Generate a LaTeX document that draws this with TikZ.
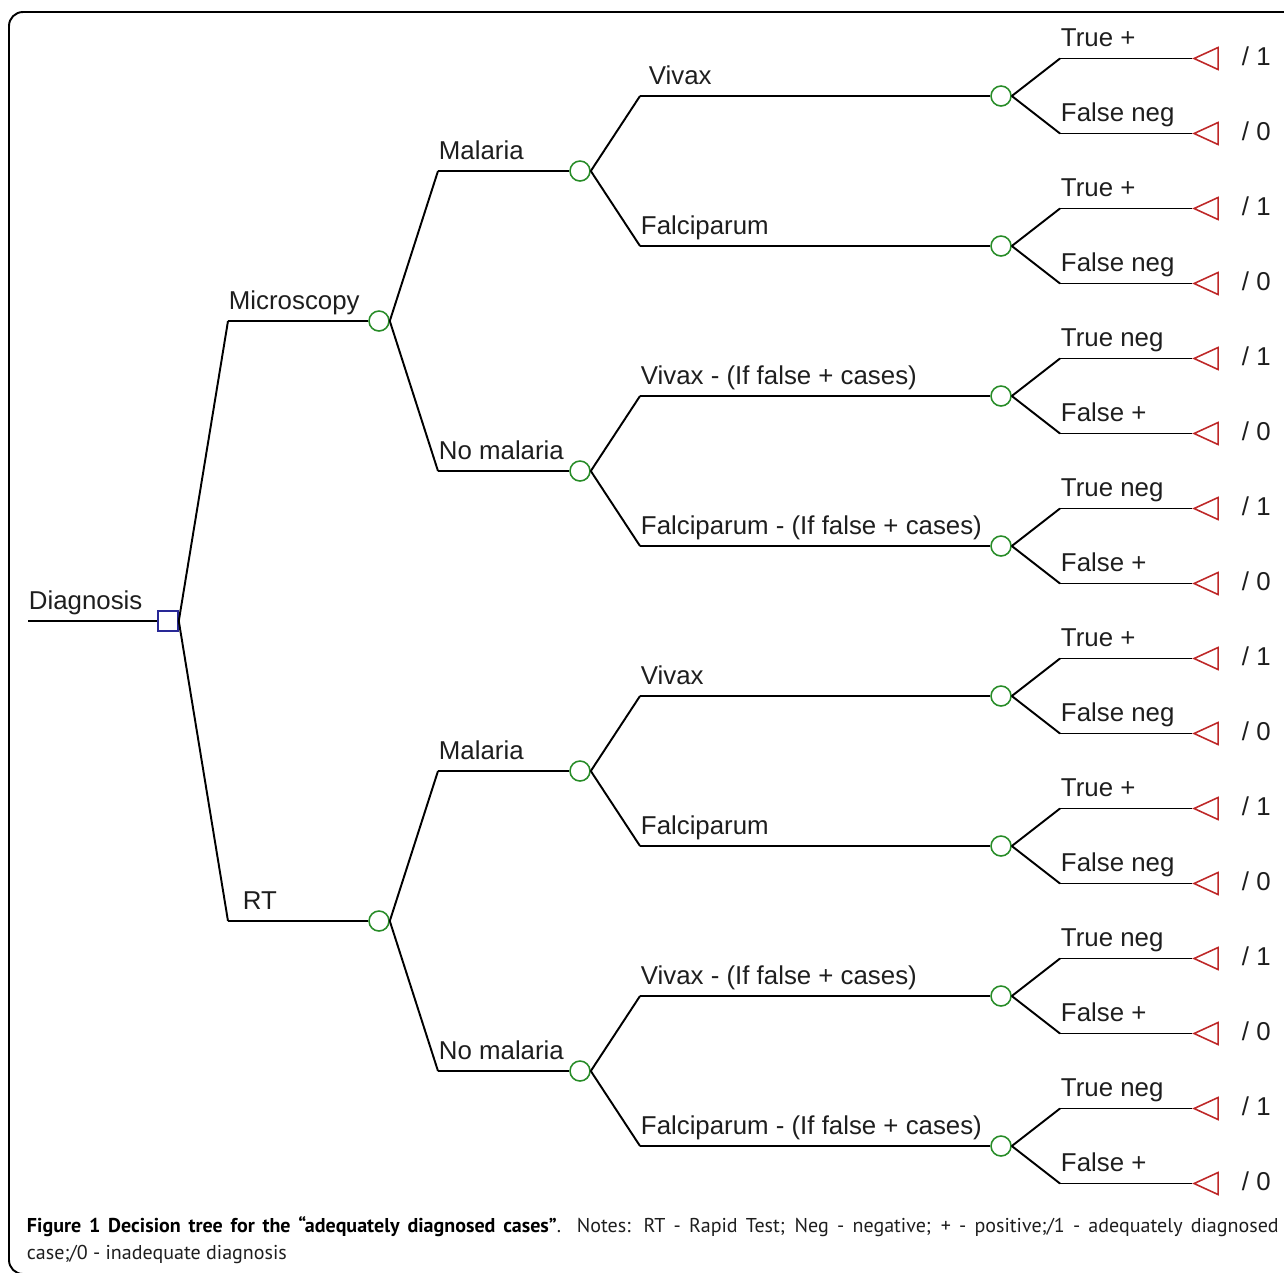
\documentclass[tikz,border=0pt]{standalone}
\usepackage{fontspec}
\setmainfont{Liberation Sans}
\newfontfamily\capfamily{PT Sans}
\usepackage{tikz}
\usetikzlibrary{shapes.geometric}

\definecolor{decblue}{RGB}{40,40,150}
\definecolor{chgreen}{RGB}{40,140,40}
\definecolor{termred}{RGB}{190,40,40}
\definecolor{inkgray}{RGB}{30,30,30}
\newcommand{\treefont}{\fontsize{14.7}{17}\selectfont}
\newcommand{\capfont}{\capfamily\fontsize{11.4}{15.3}\selectfont}

\begin{document}
\begin{tikzpicture}[x=0.02cm,y=-0.02cm,line width=1.1pt,
   decision/.style={rectangle, draw=decblue, line width=0.9pt, minimum size=0.4cm, inner sep=0pt},
   chance/.style={circle, draw=chgreen, line width=0.9pt, minimum size=0.4cm, inner sep=0pt},
   terminal/.style={isosceles triangle, isosceles triangle stretches, shape border rotate=180,
                    minimum width=0.44cm, minimum height=0.48cm, anchor=apex,
                    draw=termred, line width=0.9pt, inner sep=0pt},
   lbl/.style={pos=0, anchor=base west, inner sep=0pt, yshift=0.24cm, text=inkgray, font=\treefont},
   val/.style={anchor=west, inner sep=0pt, text=inkgray, font=\treefont}]
   \useasboundingbox (0,0) rectangle (1284,1272);
   \clip (0,0) rectangle (1284,1272);
   \draw[rounded corners=0.28cm] (9,12) rectangle (1320,1274);

   % root
   \coordinate (start) at (28,621);
   \node[decision] (diag) at (168,621) {};
   \path (start) edge node[lbl] {Diagnosis} (diag);

   % tests
   \coordinate (e-micro) at (228,321);
   \coordinate (e-rt)    at (228,921);
   \node[chance] (micro) at (379,321) {};
   \node[chance] (rt)    at (379,921) {};
   \path (diag.east) edge (e-micro) edge (e-rt)
    (e-micro) edge node[lbl] {Microscopy} (micro)
    (e-rt)    edge node[lbl, xshift=0.28cm] {RT} (rt);

   % malaria / no malaria
   \coordinate (e-mmal) at (438,171);
   \coordinate (e-mno)  at (438,471);
   \coordinate (e-rmal) at (438,771);
   \coordinate (e-rno)  at (438,1071);
   \node[chance] (mmal) at (580,171) {};
   \node[chance] (mno)  at (580,471) {};
   \node[chance] (rmal) at (580,771) {};
   \node[chance] (rno)  at (580,1071) {};
   \path (micro.east) edge (e-mmal) edge (e-mno)
         (rt.east)    edge (e-rmal) edge (e-rno)
    (e-mmal) edge node[lbl] {Malaria} (mmal)
    (e-mno)  edge node[lbl] {No malaria} (mno)
    (e-rmal) edge node[lbl] {Malaria} (rmal)
    (e-rno)  edge node[lbl] {No malaria} (rno);

   % species
   \coordinate (e-mmv) at (640,96);
   \coordinate (e-mmf) at (640,246);
   \coordinate (e-mnv) at (640,396);
   \coordinate (e-mnf) at (640,546);
   \coordinate (e-rmv) at (640,696);
   \coordinate (e-rmf) at (640,846);
   \coordinate (e-rnv) at (640,996);
   \coordinate (e-rnf) at (640,1146);
   \node[chance] (mmv) at (1001,96) {};
   \node[chance] (mmf) at (1001,246) {};
   \node[chance] (mnv) at (1001,396) {};
   \node[chance] (mnf) at (1001,546) {};
   \node[chance] (rmv) at (1001,696) {};
   \node[chance] (rmf) at (1001,846) {};
   \node[chance] (rnv) at (1001,996) {};
   \node[chance] (rnf) at (1001,1146) {};
   \path (mmal.east) edge (e-mmv) edge (e-mmf)
         (mno.east)  edge (e-mnv) edge (e-mnf)
         (rmal.east) edge (e-rmv) edge (e-rmf)
         (rno.east)  edge (e-rnv) edge (e-rnf)
    (e-mmv) edge node[lbl, xshift=0.16cm] {Vivax} (mmv)
    (e-mmf) edge node[lbl] {Falciparum} (mmf)
    (e-mnv) edge node[lbl] {Vivax - (If false + cases)} (mnv)
    (e-mnf) edge node[lbl] {Falciparum - (If false + cases)} (mnf)
    (e-rmv) edge node[lbl] {Vivax} (rmv)
    (e-rmf) edge node[lbl] {Falciparum} (rmf)
    (e-rnv) edge node[lbl] {Vivax - (If false + cases)} (rnv)
    (e-rnf) edge node[lbl] {Falciparum - (If false + cases)} (rnf);

   % outcomes
   \foreach \c/\y/\up/\dn in {mmv/96/True +/False neg, mmf/246/True +/False neg,
        mnv/396/True neg/False +, mnf/546/True neg/False +,
        rmv/696/True +/False neg, rmf/846/True +/False neg,
        rnv/996/True neg/False +, rnf/1146/True neg/False +}{
      \coordinate (\c-a) at (1060,\y-37.5);
      \coordinate (\c-b) at (1060,\y+37.5);
      \node[terminal] (\c-ta) at (1192,\y-37.5) {};
      \node[terminal] (\c-tb) at (1192,\y+37.5) {};
      \node[val] (\c-va) at (1241,\y-39.5) {/ 1};
      \node[val] (\c-vb) at (1241,\y+35.5) {/ 0};
      \path (\c.east) edge (\c-a) edge (\c-b)
       (\c-a) edge node[lbl] {\up} (\c-ta)
       (\c-b) edge node[lbl] {\dn} (\c-tb);
   }

   % caption
   \node[anchor=north west, inner sep=0pt, text width=25.04cm, align=justify, font=\capfont, text=inkgray]
      (caption) at (26,1216) {\textbf{\color{black}Figure 1 Decision tree for the “adequately diagnosed cases”}. Notes: RT - Rapid Test; Neg - negative; + - positive;/1 - adequately diagnosed\linebreak case;/0 - inadequate diagnosis};
\end{tikzpicture}
\end{document}
